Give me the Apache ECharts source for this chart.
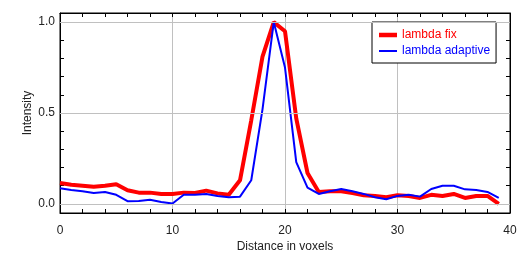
<!DOCTYPE html>
<html>
<head>
<meta charset="utf-8">
<script src="https://cdn.jsdelivr.net/npm/echarts@6/dist/echarts.min.js"></script>
<style>
html,body{margin:0;padding:0;background:#fff;}
#chart{width:530px;height:255px;}
</style>
</head>
<body>
<div id="chart"></div>
<script>
const xValues = [0,1,2,3,4,5,6,7,8,9,10,11,12,13,14,15,16,17,18,19,20,21,22,23,24,25,26,27,28,29,30,31,32,33,34,35,36,37,38,39];
const lambdaFix = [0.115,0.105,0.10,0.095,0.10,0.108,0.075,0.062,0.062,0.055,0.055,0.062,0.06,0.073,0.058,0.05,0.13,0.46,0.81,1.0,0.95,0.47,0.17,0.065,0.07,0.07,0.06,0.048,0.044,0.037,0.048,0.044,0.033,0.05,0.044,0.055,0.033,0.044,0.044,0.0];
const lambdaAdaptive = [0.086,0.077,0.07,0.06,0.066,0.05,0.015,0.016,0.023,0.01,0.002,0.05,0.05,0.055,0.044,0.037,0.04,0.13,0.52,1.0,0.75,0.23,0.09,0.055,0.07,0.082,0.07,0.055,0.037,0.026,0.044,0.05,0.04,0.082,0.1,0.1,0.08,0.077,0.066,0.033];
const seriesNames = ['lambda fix','lambda adaptive'];
const xTickLabels = [0,10,20,30,40];
const yTickLabels = [0,0.5,1.0];
const yMinorTicks = [0,0.1,0.2,0.3,0.4,0.5,0.6,0.7,0.8,0.9,1.0];

const FONT = 'Liberation Sans, Arial, sans-serif';
const chart = echarts.init(document.getElementById('chart'), null, {renderer:'canvas'});

function xAxisDef(pos, extra) {
  return Object.assign({
    type:'value', min:0, max:40, interval:10, position:pos,
    axisLine:{show:true, onZero:false, lineStyle:{color:'#000', width:1}},
    axisTick:{show:true, inside:true, length:4, lineStyle:{color:'#000', width:1}},
    minorTick:{show:true, splitNumber:5, length:4, lineStyle:{color:'#000', width:1}},
    minorSplitLine:{show:false}
  }, extra);
}
function yAxisDef(pos, extra) {
  return Object.assign({
    type:'value', min:-0.05, max:1.05, position:pos,
    axisLine:{show:true, onZero:false, lineStyle:{color:'#000', width:1}},
    axisTick:{show:true, inside:true, length:4, lineStyle:{color:'#000', width:1}, customValues:yMinorTicks},
    splitLine:{show:false}
  }, extra);
}

chart.setOption({
  animation:false,
  backgroundColor:'#fff',
  grid:{left:60, top:13, width:450, height:200, containLabel:false, outerBoundsMode:'none',
        show:true, borderColor:'#000', borderWidth:1, backgroundColor:'rgba(0,0,0,0)'},
  legend:{
    orient:'vertical', left:372, top:22,
    padding:[7,6,6,7], itemGap:4, itemWidth:18, itemHeight:12,
    backgroundColor:'#fff', borderColor:'#000', borderWidth:1, borderRadius:0,
    shadowBlur:0, shadowColor:'rgba(0,0,0,0)',
    symbolKeepAspect:true,
    textStyle:{fontFamily:FONT, fontSize:12},
    data:[
      {name:seriesNames[0], icon:'path://M0,0H18V4.5H0Z', itemStyle:{color:'#ff0000'}, textStyle:{color:'#ff0000'}},
      {name:seriesNames[1], icon:'path://M0,0H18V2H0Z', itemStyle:{color:'#0000ff'}, textStyle:{color:'#0000ff'}}
    ]
  },
  xAxis:[
    xAxisDef('bottom', {
      name:'Distance in voxels', nameLocation:'middle', nameGap:28, nameMoveOverlap:false,
      nameTextStyle:{fontFamily:FONT, fontSize:12, color:'#222'},
      axisLabel:{show:true, margin:12, fontFamily:FONT, fontSize:12, color:'#222'},
      splitLine:{show:true, showMinLine:false, showMaxLine:false, lineStyle:{color:'#c0c0c0', width:1}}
    }),
    xAxisDef('top', {
      axisLabel:{show:false},
      splitLine:{show:false}
    })
  ],
  yAxis:[
    yAxisDef('left', {
      name:'Intensity', nameLocation:'middle', nameGap:26, nameMoveOverlap:false,
      nameTextStyle:{fontFamily:FONT, fontSize:12, color:'#222'},
      axisLabel:{show:true, margin:5, fontFamily:FONT, fontSize:12, color:'#222',
        customValues:yTickLabels, formatter:v=>Number(v).toFixed(1)}
    }),
    yAxisDef('right', {
      axisLabel:{show:false}
    })
  ],
  series:[
    {
      name:'grid', type:'line', data:[], z:1, silent:true,
      markLine:{
        silent:true, symbol:['none','none'], label:{show:false},
        lineStyle:{color:'#c0c0c0', width:1, type:'solid'},
        emphasis:{disabled:true},
        data: yTickLabels.map(v=>({yAxis:v}))
      }
    },
    {
      name:seriesNames[0], type:'line', symbol:'none', clip:false, z:3,
      lineStyle:{color:'#ff0000', width:4}, itemStyle:{color:'#ff0000'},
      data:xValues.map((x,i)=>[x, lambdaFix[i]])
    },
    {
      name:seriesNames[1], type:'line', symbol:'none', clip:false, z:4,
      lineStyle:{color:'#0000ff', width:2}, itemStyle:{color:'#0000ff'},
      data:xValues.map((x,i)=>[x, lambdaAdaptive[i]])
    }
  ]
});
</script>
</body>
</html>
